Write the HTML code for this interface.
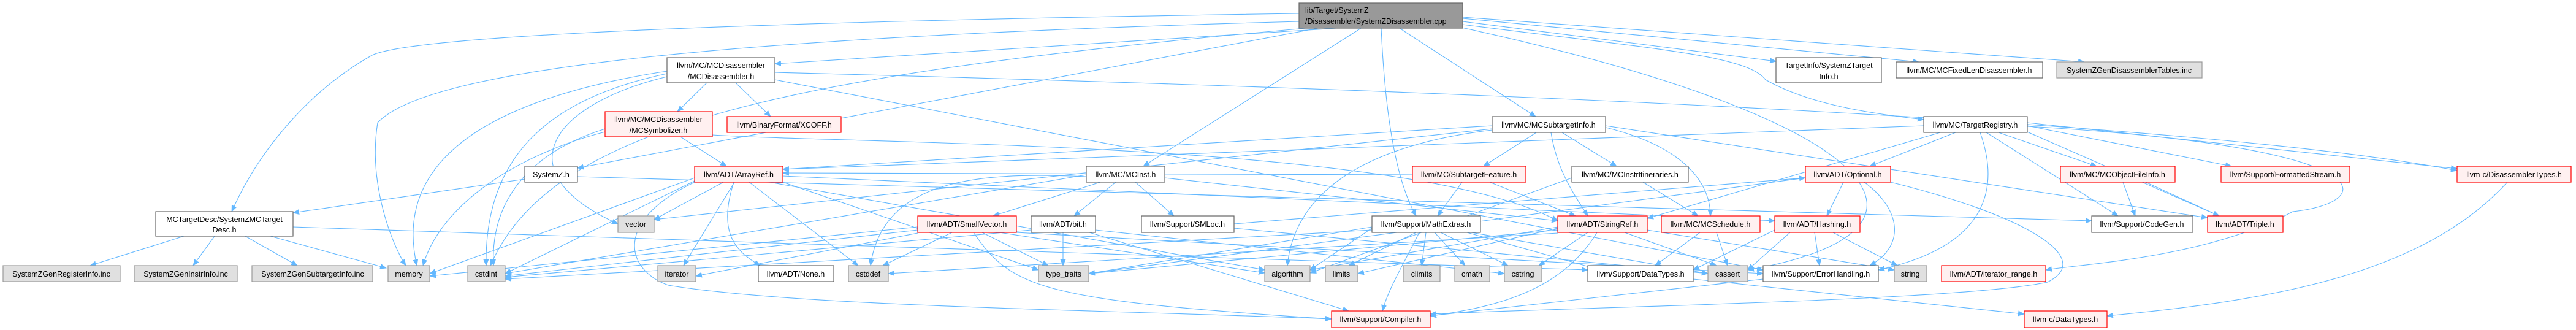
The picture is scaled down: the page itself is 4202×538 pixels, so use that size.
<!DOCTYPE html>
<html><head><meta charset="utf-8"><style>
html,body{margin:0;padding:0;background:#fff;}
svg{display:block;}
text{font-family:"Liberation Sans",Arial,sans-serif;font-size:12.5px;fill:#000;}
.w{fill:#fff;stroke:#666;stroke-width:1.2}
.r{fill:#fff0f0;stroke:#ff0000;stroke-width:1.2}
.g{fill:#e0e0e0;stroke:#999;stroke-width:1.2}
.m{fill:#999;stroke:#666;stroke-width:1.2}
.e{fill:none;stroke:#63b8ff;stroke-width:1.1;marker-end:url(#a)}
</style></head><body>
<svg width="4202" height="538" viewBox="0 0 4202 538" xmlns="http://www.w3.org/2000/svg">
<defs><marker id="a" markerUnits="userSpaceOnUse" markerWidth="11" markerHeight="9" refX="10" refY="4.5" orient="auto"><path d="M0,0 L11,4.5 L0,9 z" fill="#63b8ff"/></marker></defs>
<g>
<!-- main edges -->
<path class="e" d="M2119,22 C900,40 650,70 607,90 C500,150 420,250 378,345"/>
<path class="e" d="M2180,46 L1264,104"/>
<path class="e" d="M2150,46 L942,274"/>
<path class="e" d="M2220,46 L1865,271"/>
<path class="e" d="M2253,46 C2260,200 2280,300 2310,352"/>
<path class="e" d="M2283,46 L2505,190"/>
<path class="e" d="M2386,35 L2897,100"/>
<path class="e" d="M2386,30 L3130,101"/>
<path class="e" d="M2386,28 L3400,101"/>
<path class="e" d="M2386,40 C2700,80 2850,90 2880,130 C2950,170 3050,185 3138,195"/>
<path class="e" d="M2380,44 C3100,200 3200,380 2851,440"/>
<path class="e" d="M2119,35 C1200,60 700,110 616,200 C600,300 640,400 662,433"/>
<path class="e" d="M2130,46 C1300,120 900,200 800,433"/>
<!-- MCTargetDesc -->
<path class="e" d="M300,385 L147,433"/>
<path class="e" d="M350,385 L315,433"/>
<path class="e" d="M400,385 L485,433"/>
<path class="e" d="M441,385 L630,437"/>
<path class="e" d="M478,370 L2590,440"/>
<!-- MCDisassembler -->
<path class="e" d="M1153,135 L1105,182"/>
<path class="e" d="M1200,135 L1257,190"/>
<path class="e" d="M1088,120 C900,160 790,250 793,433"/>
<path class="e" d="M1088,116 C800,160 640,260 680,433"/>
<path class="e" d="M1088,125 C900,170 820,280 1008,365"/>
<path class="e" d="M1264,118 C2500,150 3600,200 4008,278"/>
<path class="e" d="M1264,130 L2876,440"/>
<!-- MCSymbolizer -->
<path class="e" d="M1110,223 L1185,271"/>
<path class="e" d="M987,210 C860,250 800,330 805,433"/>
<path class="e" d="M987,215 C850,250 720,330 690,433"/>
<path class="e" d="M1162,220 C1400,235 2300,230 2541,360"/>
<!-- SystemZ.h -->
<path class="e" d="M856,292 L478,347"/>
<path class="e" d="M942,288 L3412,360"/>
<!-- ArrayRef -->
<path class="e" d="M1180,297 L1067,358"/>
<path class="e" d="M1198,297 L1115,433"/>
<path class="e" d="M1197,297 C1170,380 1200,410 1240,433"/>
<path class="e" d="M1222,297 L1400,433"/>
<path class="e" d="M1133,290 L701,446"/>
<path class="e" d="M1133,295 L824,446"/>
<path class="e" d="M1255,297 L2063,440"/>
<path class="e" d="M1133,297 C1000,360 1020,440 1090,465 C1300,500 1800,505 2172,520"/>
<path class="e" d="M1277,287 L2895,360"/>
<path class="e" d="M1277,297 L1694,440"/>
<!-- MCInst -->
<path class="e" d="M1795,297 L1620,352"/>
<path class="e" d="M1820,297 L1752,352"/>
<path class="e" d="M1852,297 L1915,352"/>
<path class="e" d="M1772,285 L824,446"/>
<path class="e" d="M1772,288 C1600,280 1440,290 1420,433"/>
<path class="e" d="M1900,290 L2541,360"/>
<!-- SmallVector -->
<path class="e" d="M1553,379 L1440,433"/>
<path class="e" d="M1602,379 L1710,433"/>
<path class="e" d="M1588,379 C1650,470 1700,490 2172,520"/>
<path class="e" d="M1630,379 L2063,445"/>
<path class="e" d="M1497,370 L701,450"/>
<path class="e" d="M1497,375 L824,450"/>
<path class="e" d="M1658,379 L2876,446"/>
<path class="e" d="M1497,380 L1135,450"/>
<!-- bit.h -->
<path class="e" d="M1734,379 L1734,433"/>
<path class="e" d="M1777,379 L2200,507"/>
<path class="e" d="M1682,375 L824,452"/>
<path class="e" d="M1787,375 L2454,446"/>
<!-- SMLoc -->
<path class="e" d="M2013,365 L2945,290"/>
<path class="e" d="M2013,372 L2786,446"/>
<!-- MCSubtargetInfo -->
<path class="e" d="M2506,216 L2420,271"/>
<path class="e" d="M2548,216 L2637,271"/>
<path class="e" d="M2530,216 C2540,280 2570,320 2590,352"/>
<path class="e" d="M2620,208 C2750,240 2790,300 2790,352"/>
<path class="e" d="M2434,205 L1277,276"/>
<path class="e" d="M2434,212 C2200,240 2110,330 2100,433"/>
<path class="e" d="M2434,210 L1067,358"/>
<path class="e" d="M2619,205 L3601,355"/>
<!-- SubtargetFeature -->
<path class="e" d="M2385,297 L2345,352"/>
<path class="e" d="M2430,297 L2570,352"/>
<path class="e" d="M2304,285 L1277,282"/>
<!-- MCInstrItineraries -->
<path class="e" d="M2680,297 L2770,352"/>
<path class="e" d="M2564,290 L2137,445"/>
<!-- MathExtras -->
<path class="e" d="M2310,379 L2200,433"/>
<path class="e" d="M2326,379 L2319,433"/>
<path class="e" d="M2340,379 L2390,433"/>
<path class="e" d="M2350,379 L2460,433"/>
<path class="e" d="M2315,379 C2290,430 2265,470 2255,507"/>
<path class="e" d="M2238,372 L2137,440"/>
<path class="e" d="M2238,375 L824,455"/>
<path class="e" d="M2238,370 L1776,446"/>
<path class="e" d="M2393,379 L2610,440"/>
<path class="e" d="M2400,379 L2786,446"/>
<!-- StringRef -->
<path class="e" d="M2590,379 L2510,433"/>
<path class="e" d="M2605,379 C2550,470 2450,500 2333,515"/>
<path class="e" d="M2650,379 L2800,433"/>
<path class="e" d="M2541,370 L2137,440"/>
<path class="e" d="M2541,372 L2215,446"/>
<path class="e" d="M2687,375 L3090,440"/>
<path class="e" d="M2541,375 L1776,446"/>
<path class="e" d="M2541,380 L1449,446"/>
<!-- MCSchedule -->
<path class="e" d="M2773,379 L2700,433"/>
<path class="e" d="M2800,379 L2818,433"/>
<!-- Optional -->
<path class="e" d="M3007,297 L2980,352"/>
<path class="e" d="M3041,297 C3100,340 3110,400 3050,433"/>
<path class="e" d="M3084,297 C3300,350 3420,420 3340,460 C3200,490 2600,500 2333,512"/>
<path class="e" d="M2945,290 L1776,446"/>
<!-- Hashing -->
<path class="e" d="M2920,379 L2851,440"/>
<path class="e" d="M2960,379 L2968,433"/>
<path class="e" d="M2990,379 L3095,433"/>
<path class="e" d="M2895,375 L2762,440"/>
<!-- TargetRegistry -->
<path class="e" d="M3190,216 L3050,271"/>
<path class="e" d="M3260,216 L3420,271"/>
<path class="e" d="M3240,216 L3455,352"/>
<path class="e" d="M3300,212 L3620,352"/>
<path class="e" d="M3307,205 L3640,271"/>
<path class="e" d="M3307,200 L4008,275"/>
<path class="e" d="M3138,205 L1277,276"/>
<path class="e" d="M3165,216 L2687,356"/>
<path class="e" d="M3307,206 C3900,240 3880,330 3740,345 C3600,420 3400,430 3337,440"/>
<path class="e" d="M3230,216 C3260,300 3250,400 3064,440"/>
<!-- MCObjectFileInfo -->
<path class="e" d="M3463,297 L3483,352"/>
<path class="e" d="M3500,297 L3620,352"/>
<!-- others -->
<path class="e" d="M2876,455 L2333,515"/>
<path class="e" d="M2762,455 L3302,512"/>
<path class="e" d="M4090,297 C3950,450 3700,490 3437,515"/>
</g>
<g>
<rect class="m" x="2119" y="5" width="267" height="41"/>
<text x="2129" y="21">lib/Target/SystemZ</text><text x="2129" y="39">/Disassembler/SystemZDisassembler.cpp</text>

<rect class="w" x="254" y="345" width="224" height="40"/>
<text x="366" y="362" text-anchor="middle">MCTargetDesc/SystemZMCTarget</text><text x="366" y="379" text-anchor="middle">Desc.h</text>
<rect class="g" x="5" y="433" width="191" height="26"/><text x="100" y="451" text-anchor="middle">SystemZGenRegisterInfo.inc</text>
<rect class="g" x="219" y="433" width="168" height="26"/><text x="303" y="451" text-anchor="middle">SystemZGenInstrInfo.inc</text>
<rect class="g" x="411" y="433" width="197" height="26"/><text x="510" y="451" text-anchor="middle">SystemZGenSubtargetInfo.inc</text>
<rect class="g" x="633" y="433" width="68" height="26"/><text x="667" y="451" text-anchor="middle">memory</text>

<rect class="w" x="1088" y="94" width="176" height="41"/>
<text x="1176" y="111" text-anchor="middle">llvm/MC/MCDisassembler</text><text x="1176" y="129" text-anchor="middle">/MCDisassembler.h</text>
<rect class="r" x="987" y="182" width="175" height="41"/>
<text x="1074" y="199" text-anchor="middle">llvm/MC/MCDisassembler</text><text x="1074" y="217" text-anchor="middle">/MCSymbolizer.h</text>
<rect class="r" x="1186" y="190" width="186" height="26"/><text x="1279" y="208" text-anchor="middle">llvm/BinaryFormat/XCOFF.h</text>
<rect class="w" x="856" y="271" width="86" height="26"/><text x="899" y="289" text-anchor="middle">SystemZ.h</text>
<rect class="r" x="1133" y="271" width="144" height="26"/><text x="1205" y="289" text-anchor="middle">llvm/ADT/ArrayRef.h</text>
<rect class="g" x="1008" y="352" width="59" height="27"/><text x="1037" y="370" text-anchor="middle">vector</text>
<rect class="g" x="763" y="433" width="61" height="26"/><text x="793" y="451" text-anchor="middle">cstdint</text>
<rect class="g" x="1073" y="433" width="62" height="26"/><text x="1104" y="451" text-anchor="middle">iterator</text>
<rect class="w" x="1237" y="433" width="123" height="26"/><text x="1298" y="451" text-anchor="middle">llvm/ADT/None.h</text>
<rect class="g" x="1384" y="433" width="65" height="26"/><text x="1416" y="451" text-anchor="middle">cstddef</text>

<rect class="w" x="1772" y="271" width="128" height="26"/><text x="1836" y="289" text-anchor="middle">llvm/MC/MCInst.h</text>
<rect class="r" x="1497" y="352" width="161" height="27"/><text x="1577" y="370" text-anchor="middle">llvm/ADT/SmallVector.h</text>
<rect class="w" x="1682" y="352" width="105" height="27"/><text x="1734" y="370" text-anchor="middle">llvm/ADT/bit.h</text>
<rect class="w" x="1862" y="352" width="151" height="27"/><text x="1937" y="370" text-anchor="middle">llvm/Support/SMLoc.h</text>
<rect class="g" x="1694" y="433" width="82" height="26"/><text x="1735" y="451" text-anchor="middle">type_traits</text>
<rect class="g" x="2063" y="433" width="74" height="26"/><text x="2100" y="451" text-anchor="middle">algorithm</text>

<rect class="w" x="2434" y="190" width="185" height="26"/><text x="2526" y="208" text-anchor="middle">llvm/MC/MCSubtargetInfo.h</text>
<rect class="r" x="2304" y="271" width="185" height="26"/><text x="2396" y="289" text-anchor="middle">llvm/MC/SubtargetFeature.h</text>
<rect class="w" x="2564" y="271" width="190" height="26"/><text x="2659" y="289" text-anchor="middle">llvm/MC/MCInstrItineraries.h</text>
<rect class="w" x="2238" y="352" width="177" height="27"/><text x="2326" y="370" text-anchor="middle">llvm/Support/MathExtras.h</text>
<rect class="r" x="2541" y="352" width="146" height="27"/><text x="2614" y="370" text-anchor="middle">llvm/ADT/StringRef.h</text>
<rect class="r" x="2710" y="352" width="161" height="27"/><text x="2790" y="370" text-anchor="middle">llvm/MC/MCSchedule.h</text>
<rect class="g" x="2162" y="433" width="53" height="26"/><text x="2188" y="451" text-anchor="middle">limits</text>
<rect class="g" x="2289" y="433" width="60" height="26"/><text x="2319" y="451" text-anchor="middle">climits</text>
<rect class="g" x="2373" y="433" width="57" height="26"/><text x="2401" y="451" text-anchor="middle">cmath</text>
<rect class="g" x="2454" y="433" width="61" height="26"/><text x="2484" y="451" text-anchor="middle">cstring</text>
<rect class="w" x="2590" y="433" width="172" height="26"/><text x="2676" y="451" text-anchor="middle">llvm/Support/DataTypes.h</text>
<rect class="g" x="2786" y="433" width="65" height="26"/><text x="2818" y="451" text-anchor="middle">cassert</text>
<rect class="r" x="2172" y="507" width="161" height="27"/><text x="2252" y="525" text-anchor="middle">llvm/Support/Compiler.h</text>

<rect class="w" x="2897" y="94" width="172" height="41"/>
<text x="2983" y="111" text-anchor="middle">TargetInfo/SystemZTarget</text><text x="2983" y="129" text-anchor="middle">Info.h</text>
<rect class="w" x="3093" y="101" width="239" height="26"/><text x="3212" y="119" text-anchor="middle">llvm/MC/MCFixedLenDisassembler.h</text>
<rect class="g" x="3355" y="101" width="237" height="26"/><text x="3473" y="119" text-anchor="middle">SystemZGenDisassemblerTables.inc</text>
<rect class="w" x="3138" y="190" width="169" height="26"/><text x="3222" y="208" text-anchor="middle">llvm/MC/TargetRegistry.h</text>
<rect class="r" x="2945" y="271" width="139" height="26"/><text x="3014" y="289" text-anchor="middle">llvm/ADT/Optional.h</text>
<rect class="r" x="3361" y="271" width="187" height="26"/><text x="3454" y="289" text-anchor="middle">llvm/MC/MCObjectFileInfo.h</text>
<rect class="r" x="2895" y="352" width="139" height="27"/><text x="2964" y="370" text-anchor="middle">llvm/ADT/Hashing.h</text>
<rect class="w" x="3412" y="352" width="165" height="27"/><text x="3494" y="370" text-anchor="middle">llvm/Support/CodeGen.h</text>
<rect class="w" x="2876" y="433" width="188" height="26"/><text x="2970" y="451" text-anchor="middle">llvm/Support/ErrorHandling.h</text>
<rect class="g" x="3090" y="433" width="53" height="26"/><text x="3116" y="451" text-anchor="middle">string</text>
<rect class="r" x="3167" y="433" width="170" height="26"/><text x="3252" y="451" text-anchor="middle">llvm/ADT/iterator_range.h</text>
<rect class="r" x="3302" y="507" width="135" height="27"/><text x="3369" y="525" text-anchor="middle">llvm-c/DataTypes.h</text>
<rect class="r" x="3623" y="271" width="210" height="26"/><text x="3728" y="289" text-anchor="middle">llvm/Support/FormattedStream.h</text>
<rect class="r" x="4008" y="271" width="186" height="26"/><text x="4101" y="289" text-anchor="middle">llvm-c/DisassemblerTypes.h</text>
<rect class="r" x="3601" y="352" width="123" height="27"/><text x="3662" y="370" text-anchor="middle">llvm/ADT/Triple.h</text>
</g>
</svg>
</body></html>
